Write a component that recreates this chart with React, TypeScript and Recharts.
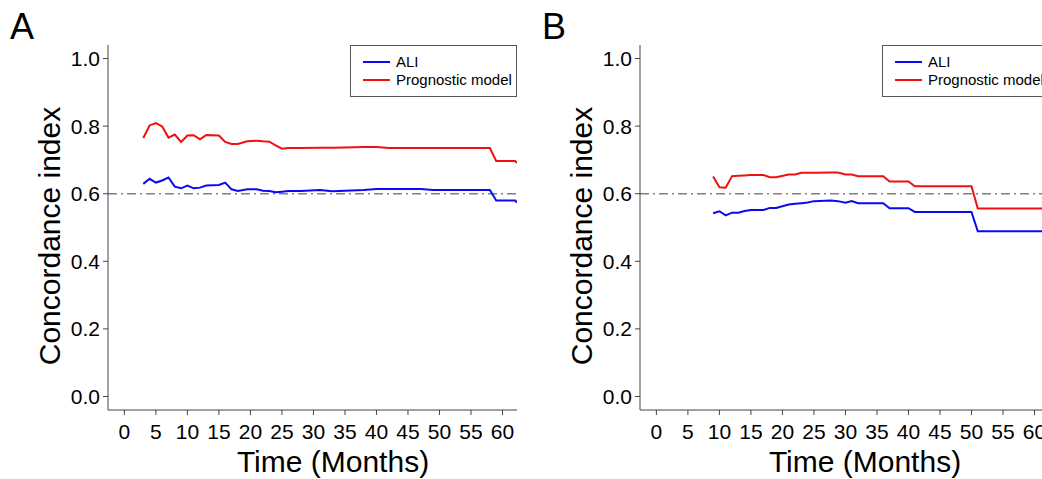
import { LineChart, Line, XAxis, YAxis, ReferenceLine } from "recharts";

// Time-dependent concordance index, two cohorts (A, B)
const xTicks = [0, 5, 10, 15, 20, 25, 30, 35, 40, 45, 50, 55, 60];
const yTicks = [0, 0.2, 0.4, 0.6, 0.8, 1.0];

const monthsA = [3, 4, 5, 6, 7, 8, 9, 10, 11, 12, 13, 15, 16, 17, 18, 19.5, 21, 22, 23, 24, 25, 26, 28, 31, 33, 35, 38, 40, 42, 47, 49, 58, 59, 62, 62.3];
const aliA = [0.629, 0.644, 0.633, 0.639, 0.648, 0.621, 0.616, 0.624, 0.616, 0.618, 0.624, 0.626, 0.633, 0.613, 0.608, 0.613, 0.613, 0.609, 0.608, 0.604, 0.606, 0.608, 0.608, 0.611, 0.607, 0.609, 0.611, 0.614, 0.614, 0.614, 0.611, 0.611, 0.58, 0.58, 0.574];
const progA = [0.765, 0.802, 0.809, 0.799, 0.766, 0.775, 0.753, 0.772, 0.773, 0.761, 0.774, 0.772, 0.753, 0.747, 0.747, 0.755, 0.757, 0.755, 0.754, 0.743, 0.733, 0.735, 0.735, 0.736, 0.736, 0.737, 0.738, 0.738, 0.735, 0.735, 0.735, 0.735, 0.697, 0.697, 0.691];

const monthsB = [9, 10, 11, 12, 13, 14, 15, 17, 18, 19, 21, 22, 23, 24, 25, 27.7, 28.8, 30, 31, 32, 36, 37, 40, 41, 50, 51, 62.3];
const aliB = [0.542, 0.548, 0.536, 0.544, 0.544, 0.549, 0.552, 0.552, 0.558, 0.558, 0.568, 0.57, 0.572, 0.574, 0.578, 0.58, 0.578, 0.573, 0.578, 0.572, 0.572, 0.557, 0.557, 0.546, 0.546, 0.489, 0.489];
const progB = [0.651, 0.619, 0.618, 0.652, 0.653, 0.654, 0.655, 0.655, 0.649, 0.649, 0.657, 0.657, 0.662, 0.662, 0.662, 0.663, 0.663, 0.657, 0.657, 0.652, 0.652, 0.636, 0.636, 0.622, 0.622, 0.556, 0.556];

const BLUE = "#0a0af0";
const RED = "#f01010";
const FONT = "'Liberation Sans', Arial, sans-serif";

function toRows(months: number[], ali: number[], prog: number[]) {
  return months.map((m, i) => ({ month: m, ali: ali[i], prog: prog[i] }));
}

function Panel({ letter, data }: { letter: string; data: { month: number; ali: number; prog: number }[] }) {
  return (
    <div style={{ position: "relative", width: 532, height: 479, flex: "none", fontFamily: FONT }}>
      <LineChart width={532} height={479} data={data} margin={{ top: 45, right: 15, bottom: 0, left: 0 }}>
        <XAxis
          dataKey="month"
          type="number"
          domain={[-2.6, 62.3]}
          ticks={xTicks}
          interval={0}
          allowDataOverflow
          height={69}
          tickSize={5}
          tickMargin={9}
          stroke="#444"
          tick={{ fontSize: 21, fill: "#000", fontFamily: FONT }}
        />
        <YAxis
          type="number"
          domain={[-0.04, 1.04]}
          ticks={yTicks}
          interval={0}
          allowDataOverflow
          width={108}
          tickSize={5}
          tickMargin={3}
          stroke="#444"
          tickFormatter={(v: number) => v.toFixed(1)}
          tick={{ fontSize: 21, fill: "#000", fontFamily: FONT }}
        />
        <ReferenceLine y={0.6} stroke="#808080" strokeWidth={1.6} strokeDasharray="9 4 2 4" />
        <Line type="linear" dataKey="ali" stroke={BLUE} strokeWidth={2} dot={false} isAnimationActive={false} />
        <Line type="linear" dataKey="prog" stroke={RED} strokeWidth={2} dot={false} isAnimationActive={false} />
      </LineChart>

      <div style={{ position: "absolute", left: 10, top: 9, fontSize: 36, lineHeight: 1 }}>{letter}</div>

      <div
        style={{
          position: "absolute",
          left: 50,
          top: 236,
          transform: "translate(-50%, -50%) rotate(-90deg)",
          whiteSpace: "nowrap",
          fontSize: 30,
          lineHeight: 1,
        }}
      >
        Concordance index
      </div>

      <div
        style={{
          position: "absolute",
          left: 333,
          top: 462,
          transform: "translate(-50%, -50%)",
          whiteSpace: "nowrap",
          fontSize: 30,
          lineHeight: 1,
        }}
      >
        Time (Months)
      </div>

      <div
        style={{
          position: "absolute",
          left: 350,
          top: 45,
          width: 165,
          height: 50,
          border: "1px solid #555",
          fontSize: 15,
          background: "#fff",
        }}
      >
        {[
          { name: "ALI", color: BLUE },
          { name: "Prognostic model", color: RED },
        ].map((it, i) => (
          <div key={it.name} style={{ position: "absolute", left: 12, top: 7 + i * 18, display: "flex", alignItems: "center", whiteSpace: "nowrap" }}>
            <span style={{ display: "inline-block", width: 27, height: 2, background: it.color, marginRight: 6 }} />
            <span>{it.name}</span>
          </div>
        ))}
      </div>
    </div>
  );
}

export default function App() {
  return (
    <div style={{ position: "absolute", left: 0, top: 0, width: 1042, height: 479, overflow: "hidden", background: "#fff", display: "flex" }}>
      <Panel letter="A" data={toRows(monthsA, aliA, progA)} />
      <Panel letter="B" data={toRows(monthsB, aliB, progB)} />
    </div>
  );
}
